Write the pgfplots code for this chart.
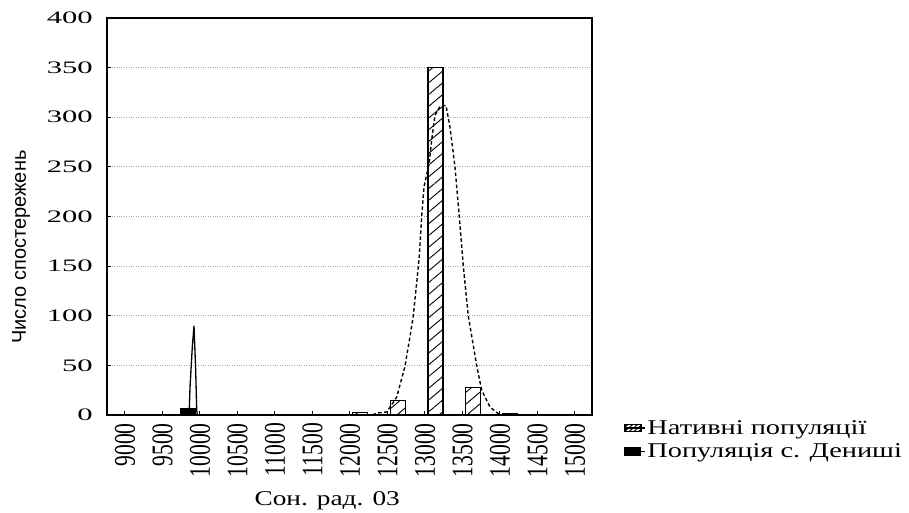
\documentclass[border=0pt]{standalone}
\usepackage{pgfplots}
\pgfplotsset{compat=1.18}
\usetikzlibrary{patterns.meta}
\usepackage{fontspec}
\setmainfont{Liberation Serif}
\newfontfamily\ytickfont[FakeStretch=1.75]{Liberation Serif}
\newfontfamily\xtickfont[FakeStretch=0.72]{Liberation Serif}
\newfontfamily\legfont[FakeStretch=1.35]{Liberation Serif}
\newfontfamily\xlabfont[FakeStretch=1.3]{Liberation Serif}
\newfontfamily\ylabfont{Liberation Sans}
\begin{document}
\begin{tikzpicture}
\begin{axis}[
  scale only axis, width=485pt, height=397pt,
  xmin=8760, xmax=15227, ymin=0, ymax=400,
  axis line style={line width=1.6pt},
  xtick={9000,9500,10000,10500,11000,11500,12000,12500,13000,13500,14000,14500,15000},
  ytick={0,50,100,150,200,250,300,350,400},
  scaled x ticks=false, scaled y ticks=false,
  /pgf/number format/assume math mode=true,
  /pgf/number format/1000 sep={},
  xtick pos=bottom, ytick pos=left,
  tick align=inside, major tick length=4pt,
  tick style={line width=1pt, black},
  ymajorgrids, grid style={dotted, line width=1pt, gray!70},
  xticklabel style={rotate=90, anchor=east, inner sep=0pt, font={\xtickfont\fontsize{30}{30}\selectfont}},
  xticklabel shift=8pt,
  yticklabel style={anchor=east, inner sep=0pt, font={\ytickfont\fontsize{17.5}{18}\selectfont}},
  yticklabel shift=14pt,
  xlabel={Сон. рад. 03},
  xlabel style={at={(axis description cs:0.454,-0.2292)}, anchor=base, inner sep=0pt, font={\xlabfont\fontsize{21}{21}\selectfont}},
  ylabel={Число спостережень},
  ylabel style={at={(axis description cs:-0.1773,0.423)}, anchor=center, inner sep=0pt, font={\ylabfont\fontsize{20}{20}\selectfont}},
  legend style={at={(axis description cs:1.066,-0.0076)}, anchor=north west, draw=none, fill=none, inner sep=0pt, row sep=4pt,
    font={\legfont\fontsize{21}{21}\selectfont}},
  legend cell align=left,
]
\addplot[ybar, bar width=200, bar shift=0pt, draw=black, line width=1.2pt,
  preaction={fill=white},
  pattern={Lines[angle=40,distance=9pt,line width=0.9pt]},
  legend image code/.code={\draw[line width=0.6pt, pattern={Lines[angle=40,distance=3pt,line width=1pt]}] (0pt,-3.5pt) rectangle (16pt,3.5pt); \path (0pt,0pt) -- (20pt,0pt);}]
  coordinates {(12135,2.5) (12640,15) (13140,350) (13635,28) (14135,1)};
\addlegendentry{Нативні популяції}
\addplot[ybar, bar width=200, bar shift=0pt, draw=black, fill=black, line width=1pt,
  legend image code/.code={\fill[black] (0pt,-4pt) rectangle (16pt,4pt); \path (0pt,0pt) -- (20pt,0pt);}]
  coordinates {(9840,7)};
\addlegendentry{Популяція с. Дениші}
\addplot[sharp plot, black, line width=1.3pt, forget plot]
  coordinates {(9855,0) (9867,28) (9897,68) (9920,90) (9943,44) (9956,5) (9965,0)};
\addplot[sharp plot, black, line width=1.4pt, dash pattern=on 3.5pt off 2.5pt, forget plot]
  coordinates {(12300,0) (12356,2) (12489,3) (12623,18) (12733,49) (12800,79) (12844,100) (12889,133)
  (12924,160) (12956,200) (12987,230) (13057,254) (13089,277) (13133,302) (13200,311) (13280,312)
  (13333,290) (13400,250) (13457,200) (13511,150) (13577,100) (13689,50) (13756,25) (13867,8) (14000,0)};
\end{axis}
\pgfresetboundingbox
\path[use as bounding box] (-107pt,-98pt) rectangle (802pt,415pt);
\end{tikzpicture}
\end{document}
